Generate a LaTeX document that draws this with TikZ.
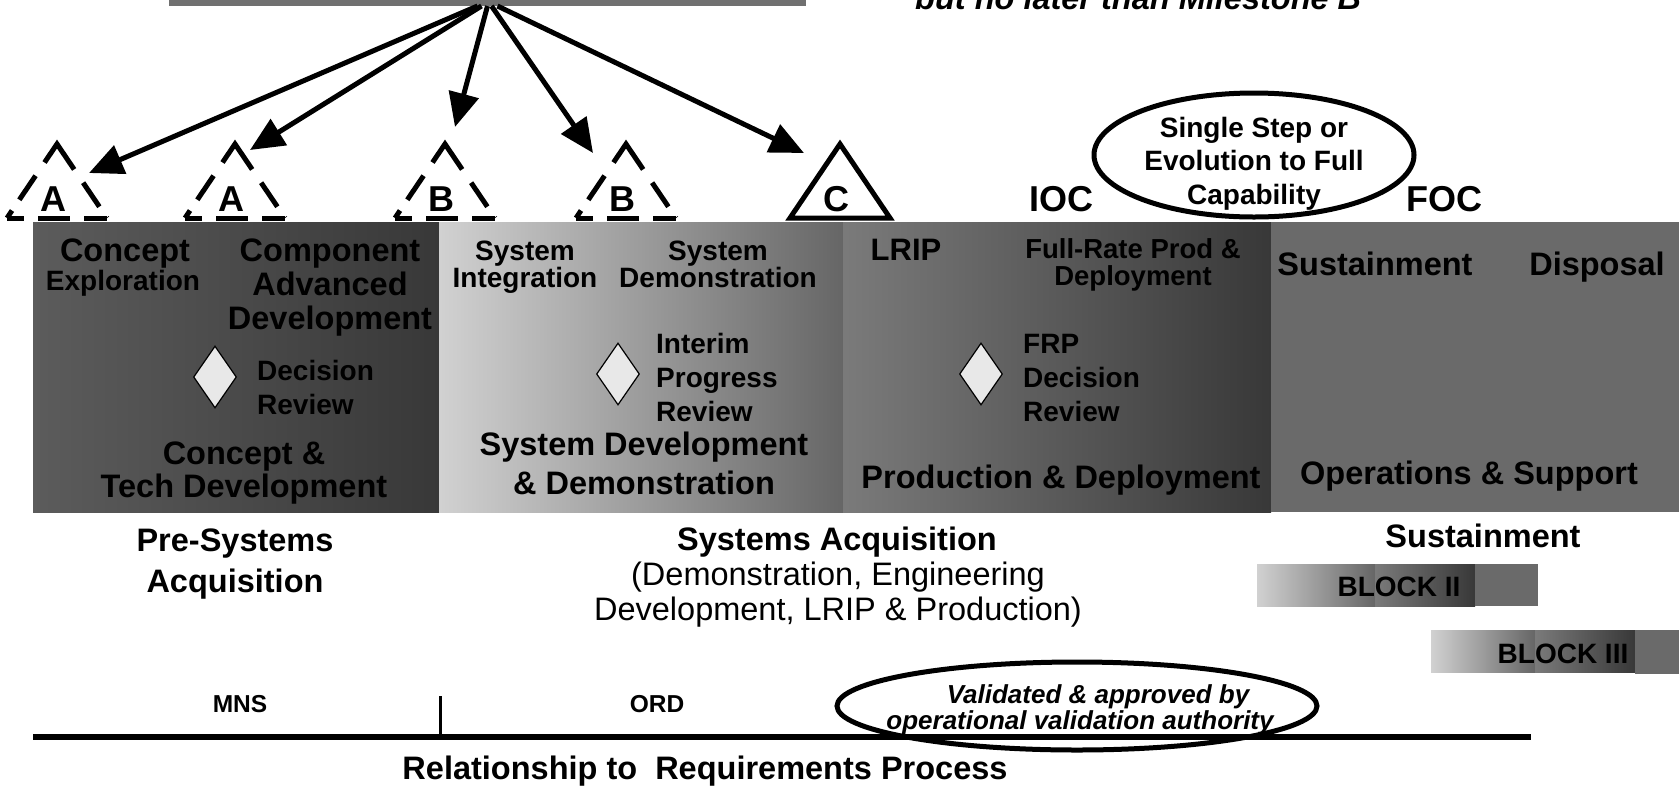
\documentclass[tikz,border=0pt]{standalone}
\usepackage{fontspec}
\setmainfont{Liberation Sans}
\usetikzlibrary{arrows.meta,shapes.geometric,positioning}

\definecolor{barGray}{gray}{0.44}
\definecolor{ctLight}{gray}{0.36}
\definecolor{ctMid}{gray}{0.31}
\definecolor{ctDark}{gray}{0.22}
\definecolor{sdLight}{gray}{0.82}
\definecolor{sdMid}{gray}{0.70}
\definecolor{sdDark}{gray}{0.40}
\definecolor{pdLight}{gray}{0.48}
\definecolor{pdMid}{gray}{0.40}
\definecolor{pdDark}{gray}{0.22}
\definecolor{osGray}{gray}{0.415}
\definecolor{dmdFill}{gray}{0.91}

\newcommand{\fnt}[2]{\fontsize{#1}{#2}\selectfont}

\tikzset{
  txt/.style={inner sep=0pt, anchor=base, align=center},
  bigtxt/.style={txt, font=\fnt{32.5}{34}\bfseries},
  midtxt/.style={txt, font=\fnt{28}{34}\bfseries},
  mslbl/.style={txt, font=\fnt{36}{38}\bfseries},
  reqtxt/.style={txt, font=\fnt{24.5}{26}\bfseries},
  ovaltxt/.style={txt, font=\fnt{26}{24}\bfseries\itshape},
  milestone/.style={line width=5pt, line join=miter},
  dashedms/.style={milestone, dash pattern=on 9pt off 13pt on 29pt off 16pt on 53pt off 16pt on 29pt off 13pt on 9pt off 20pt},
  dashedbase/.style={line width=5pt, dash pattern=on 17pt off 14pt on 32pt off 14pt on 23pt off 20pt},
  decision/.style={diamond, draw, fill=dmdFill, line width=1.2pt, minimum width=43pt, minimum height=62pt, inner sep=0pt},
  arr/.style={line width=5pt, -{Triangle[length=34pt,width=30pt]}},
  ctband/.style={left color=ctLight, middle color=ctMid, right color=ctDark},
  sdband/.style={left color=sdLight, middle color=sdMid, right color=sdDark},
  pdband/.style={left color=pdLight, middle color=pdMid, right color=pdDark},
}

\begin{document}
\begin{tikzpicture}[x=1pt,y=-1pt]
    \useasboundingbox (0,0) rectangle (1679,788);
    \clip (0,0) rectangle (1679,788);

    % Phase bands
    \shade[ctband] (33,222) rectangle (439,512);
    \shade[sdband] (439,222) rectangle (843,512);
    \shade[pdband] (843,222) rectangle (1271,512);
    \fill[osGray] (1271,222) rectangle (1679,512);

    % Top bar (cut off) and note
    \node[fill=barGray, minimum width=637pt, minimum height=12pt, inner sep=0pt, anchor=south] (topbar) at (487.5,6) {};
    \node[font=\fnt{32.5}{34}\bfseries\itshape, inner sep=0pt, anchor=base west] (nolater) at (915,9) {but no later than Milestone B};

    % Milestone triangles
    \foreach \x/\l/\n in {57/A/msA1, 235/A/msA2, 445/B/msB1, 626/B/msB2}{
        \draw[dashedms] (\x-50,218) -- (\x,144) -- (\x+50,218);
        \draw[dashedbase] (\x-50,218) -- (\x+50,218);
        \node[mslbl] (\n) at (\x-4,211) {\l};
    }
    \draw[milestone] (840,144) -- (790,218) -- (890,218) -- cycle;
    \node[mslbl] (msC) at (836,211) {C};

    % Arrows from the top bar
    \coordinate (tipA1) at (89,173);
    \coordinate (tipA2) at (250,150);
    \coordinate (tipB1) at (455,127);
    \coordinate (tipB2) at (593,153);
    \coordinate (tipC)  at (804,153);
    \foreach \s/\t in {-10/tipA1, -6/tipA2, 0/tipB1, 4/tipB2, 10/tipC}
        \draw[arr] ([xshift=\s pt]topbar.south) -- (\t);

    % IOC, FOC and evolution oval
    \node[mslbl] (ioc) at (1061,211) {IOC};
    \node[mslbl] (foc) at (1444,211) {FOC};
    \draw[line width=5pt] (1254,155) ellipse [x radius=160, y radius=62];
    \node[txt, font=\fnt{28}{33.5}\bfseries] (evo) at (1254,204) {Single Step or\\Evolution to Full\\Capability};

    % Concept & Tech Development
    \node[bigtxt] (concept) at (125,261) {Concept};
    \node[midtxt] (explor) at (123,290) {Exploration};
    \node[bigtxt] (compadv) at (330,329) {Component\\Advanced\\Development};
    \node[decision] (dr) at (215,377) {};
    \node[midtxt, anchor=base west, align=left] (drtxt) at (257,414) {Decision\\Review};
    \node[bigtxt, font=\fnt{32.5}{33}\bfseries] (ctd) at (244,497) {Concept \&\\Tech Development};

    % System Development & Demonstration
    \node[midtxt, font=\fnt{28}{27}\bfseries] (sysint) at (525,287) {System\\Integration};
    \node[midtxt, font=\fnt{28}{27}\bfseries] (sysdemo) at (718,287) {System\\Demonstration};
    \node[decision] (ipr) at (618,374) {};
    \node[midtxt, anchor=base west, align=left] (iprtxt) at (656,421) {Interim\\Progress\\Review};
    \node[bigtxt, font=\fnt{32.5}{39}\bfseries] (sdd) at (644,494) {System Development\\\& Demonstration};

    % Production & Deployment
    \node[bigtxt, font=\fnt{31}{34}\bfseries] (lrip) at (906,260) {LRIP};
    \node[midtxt, font=\fnt{27.5}{27}\bfseries] (frpd) at (1133,285) {Full-Rate Prod \&\\Deployment};
    \node[decision] (frp) at (981,374) {};
    \node[midtxt, anchor=base west, align=left] (frptxt) at (1023,421) {FRP\\Decision\\Review};
    \node[bigtxt] (pd) at (1061,488) {Production \& Deployment};

    % Operations & Support
    \node[bigtxt] (sustphase) at (1375,275) {Sustainment};
    \node[bigtxt] (disposal) at (1597,275) {Disposal};
    \node[bigtxt] (ops) at (1469,484) {Operations \& Support};

    % Activity labels below the bands
    \node[bigtxt, font=\fnt{32.5}{41}\bfseries] (presys) at (235,592) {Pre-Systems\\Acquisition};
    \node[bigtxt] (sysacq) at (837,550) {Systems Acquisition};
    \node[txt, font=\fnt{32.5}{35}] (sysacqsub) at (838,620) {(Demonstration, Engineering\\Development, LRIP \& Production)};
    \node[bigtxt] (sustain) at (1483,547) {Sustainment};

    % Blocks
    \shade[sdband] (1257,564) rectangle (1375,606);
    \shade[pdband] (1375,564) rectangle (1475,606);
    \fill[osGray] (1475,564) rectangle (1538,606);
    \node[midtxt] (blk2) at (1399,596) {BLOCK II};
    \shade[sdband] (1431,630) rectangle (1535,672);
    \shade[pdband] (1535,630) rectangle (1635,672);
    \fill[osGray] (1635,630) rectangle (1679,674);
    \node[midtxt] (blk3) at (1563,663) {BLOCK III};

    % Requirements process line
    \coordinate (reqL) at (33,737);
    \coordinate (reqR) at (1531,737);
    \coordinate (tickT) at (440,696);
    \coordinate (tickB) at (440,740);
    \draw[line width=6pt] (reqL) -- (reqR);
    \draw[line width=3pt] (tickT) -- (tickB);
    \node[reqtxt] (mns) at (240,712) {MNS};
    \node[reqtxt] (ord) at (657,712) {ORD};
    \draw[line width=5pt] (1077,706) ellipse [x radius=240, y radius=44];
    \node[ovaltxt] (valid1) at (1098,703) {Validated \& approved by};
    \node[ovaltxt] (valid2) at (1080,729) {operational validation authority};
    \node[bigtxt] (relreq) at (705,779) {Relationship to\ \ Requirements Process};

\end{tikzpicture}
\end{document}
